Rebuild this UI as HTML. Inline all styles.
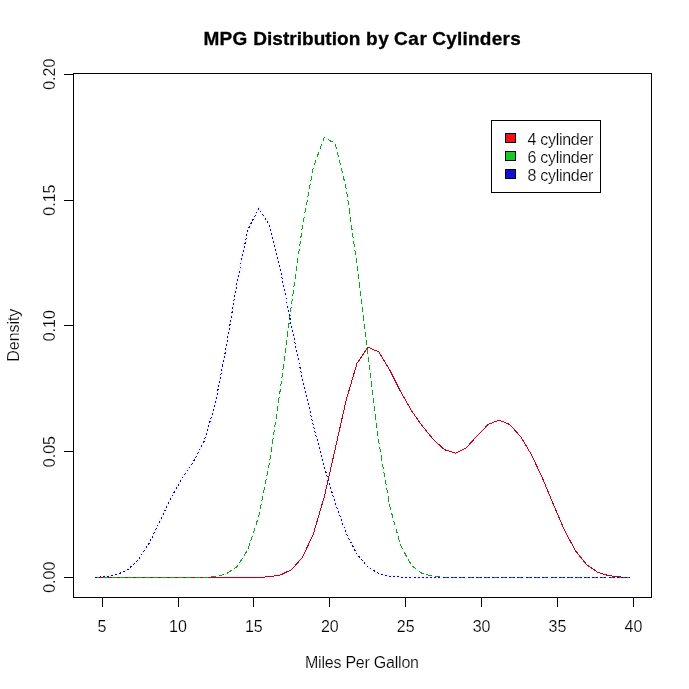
<!DOCTYPE html>
<html lang="en"><head><meta charset="utf-8"><title>MPG Distribution by Car Cylinders</title>
<style>html,body{margin:0;padding:0;background:#fff}body{width:689px;height:689px;overflow:hidden}svg{display:block}svg{will-change:transform}text{font-family:"Liberation Sans",Arial,sans-serif;fill:#000;stroke:#fff;stroke-width:.18px;paint-order:fill stroke}</style></head><body>
<svg width="689" height="689" viewBox="0 0 689 689">
<rect width="689" height="689" fill="#fff"/>
<polyline points="94.91,577.50 105.83,577.50 116.75,577.50 127.67,577.50 138.60,577.50 149.52,577.50 160.44,577.50 171.36,577.50 182.28,577.50 193.21,577.50 204.13,577.50 215.05,577.50 225.97,577.50 236.90,577.49 247.82,577.47 258.74,577.33 269.66,576.78 280.58,574.91 291.51,569.66 302.43,557.46 313.35,533.97 324.27,496.81 335.19,449.01 346.12,400.24 357.04,363.29 367.96,347.14 378.88,352.00 389.81,370.19 400.73,391.87 411.65,410.91 422.57,426.39 433.49,439.55 444.42,449.65 455.34,453.19 466.26,447.73 477.18,435.84 488.10,424.50 499.03,420.08 509.95,424.63 520.87,436.91 531.79,455.35 542.72,478.79 553.64,505.04 564.56,530.30 575.48,550.71 586.40,564.42 597.33,572.05 608.25,575.58 619.17,576.93 630.09,577.36" fill="none" stroke="#ffeef1" stroke-width="3"/>
<polyline points="94.91,577.50 105.83,577.50 116.75,577.50 127.67,577.50 138.60,577.50 149.52,577.50 160.44,577.50 171.36,577.50 182.28,577.49 193.21,577.46 204.13,577.28 215.05,576.53 225.97,574.00 236.90,566.79 247.82,549.74 258.74,516.28 269.66,461.71 280.58,387.75 291.51,304.37 302.43,226.31 313.35,167.35 324.27,137.48 335.19,143.53 346.12,188.07 357.04,264.80 367.96,356.71 378.88,442.40 389.81,506.64 400.73,545.87 411.65,565.55 422.57,573.69 433.49,576.48 444.42,577.27 455.34,577.46 466.26,577.49 477.18,577.50 488.10,577.50 499.03,577.50 509.95,577.50 520.87,577.50 531.79,577.50 542.72,577.50 553.64,577.50 564.56,577.50 575.48,577.50 586.40,577.50 597.33,577.50 608.25,577.50 619.17,577.50 630.09,577.50" fill="none" stroke="#eaffec" stroke-width="3"/>
<polyline points="94.91,577.28 105.83,576.64 116.75,574.67 127.67,569.71 138.60,559.50 149.52,542.58 160.44,520.24 171.36,497.09 182.28,477.88 193.21,462.02 204.13,441.25 215.05,404.69 225.97,348.61 236.90,283.25 247.82,229.80 258.74,208.34 269.66,225.25 280.58,270.44 291.51,326.19 302.43,379.23 313.35,425.60 324.27,466.66 335.19,503.10 346.12,533.03 357.04,554.38 367.96,567.20 378.88,573.60 389.81,576.25 400.73,577.16 411.65,577.42 422.57,577.49 433.49,577.50 444.42,577.50 455.34,577.50 466.26,577.50 477.18,577.50 488.10,577.50 499.03,577.50 509.95,577.50 520.87,577.50 531.79,577.50 542.72,577.50 553.64,577.50 564.56,577.50 575.48,577.50 586.40,577.50 597.33,577.50 608.25,577.50 619.17,577.50 630.09,577.50" fill="none" stroke="#f2f2ff" stroke-width="3"/>
<polyline points="94.91,577.50 105.83,577.50 116.75,577.50 127.67,577.50 138.60,577.50 149.52,577.50 160.44,577.50 171.36,577.50 182.28,577.50 193.21,577.50 204.13,577.50 215.05,577.50 225.97,577.50 236.90,577.49 247.82,577.47 258.74,577.33 269.66,576.78 280.58,574.91 291.51,569.66 302.43,557.46 313.35,533.97 324.27,496.81 335.19,449.01 346.12,400.24 357.04,363.29 367.96,347.14 378.88,352.00 389.81,370.19 400.73,391.87 411.65,410.91 422.57,426.39 433.49,439.55 444.42,449.65 455.34,453.19 466.26,447.73 477.18,435.84 488.10,424.50 499.03,420.08 509.95,424.63 520.87,436.91 531.79,455.35 542.72,478.79 553.64,505.04 564.56,530.30 575.48,550.71 586.40,564.42 597.33,572.05 608.25,575.58 619.17,576.93 630.09,577.36" fill="none" stroke="#9c1028" stroke-width="1" shape-rendering="crispEdges"/>
<polyline points="94.91,577.50 105.83,577.50 116.75,577.50 127.67,577.50 138.60,577.50 149.52,577.50 160.44,577.50 171.36,577.50 182.28,577.49 193.21,577.46 204.13,577.28 215.05,576.53 225.97,574.00 236.90,566.79 247.82,549.74 258.74,516.28 269.66,461.71 280.58,387.75 291.51,304.37 302.43,226.31 313.35,167.35 324.27,137.48 335.19,143.53 346.12,188.07 357.04,264.80 367.96,356.71 378.88,442.40 389.81,506.64 400.73,545.87 411.65,565.55 422.57,573.69 433.49,576.48 444.42,577.27 455.34,577.46 466.26,577.49 477.18,577.50 488.10,577.50 499.03,577.50 509.95,577.50 520.87,577.50 531.79,577.50 542.72,577.50 553.64,577.50 564.56,577.50 575.48,577.50 586.40,577.50 597.33,577.50 608.25,577.50 619.17,577.50 630.09,577.50" fill="none" stroke="#35883f" stroke-width="1" stroke-dasharray="5.2 3.1" shape-rendering="crispEdges"/>
<polyline points="94.91,577.28 105.83,576.64 116.75,574.67 127.67,569.71 138.60,559.50 149.52,542.58 160.44,520.24 171.36,497.09 182.28,477.88 193.21,462.02 204.13,441.25 215.05,404.69 225.97,348.61 236.90,283.25 247.82,229.80 258.74,208.34 269.66,225.25 280.58,270.44 291.51,326.19 302.43,379.23 313.35,425.60 324.27,466.66 335.19,503.10 346.12,533.03 357.04,554.38 367.96,567.20 378.88,573.60 389.81,576.25 400.73,577.16 411.65,577.42 422.57,577.49 433.49,577.50 444.42,577.50 455.34,577.50 466.26,577.50 477.18,577.50 488.10,577.50 499.03,577.50 509.95,577.50 520.87,577.50 531.79,577.50 542.72,577.50 553.64,577.50 564.56,577.50 575.48,577.50 586.40,577.50 597.33,577.50 608.25,577.50 619.17,577.50 630.09,577.50" fill="none" stroke="#1a1468" stroke-width="1" stroke-dasharray="2 2.15" shape-rendering="crispEdges"/>
<rect x="73.5" y="73.5" width="578.0" height="524.0" fill="none" stroke="#000" stroke-width="1" shape-rendering="crispEdges"/>
<g stroke="#000" stroke-width="1" shape-rendering="crispEdges">
<line x1="102.1" y1="597.5" x2="633.5" y2="597.5"/>
<line x1="102.5" y1="597.5" x2="102.5" y2="606.5"/>
<line x1="178.5" y1="597.5" x2="178.5" y2="606.5"/>
<line x1="253.5" y1="597.5" x2="253.5" y2="606.5"/>
<line x1="329.5" y1="597.5" x2="329.5" y2="606.5"/>
<line x1="405.5" y1="597.5" x2="405.5" y2="606.5"/>
<line x1="481.5" y1="597.5" x2="481.5" y2="606.5"/>
<line x1="557.5" y1="597.5" x2="557.5" y2="606.5"/>
<line x1="633.5" y1="597.5" x2="633.5" y2="606.5"/>
<line x1="64.0" y1="577.5" x2="73.5" y2="577.5"/>
<line x1="64.0" y1="451.5" x2="73.5" y2="451.5"/>
<line x1="64.0" y1="325.5" x2="73.5" y2="325.5"/>
<line x1="64.0" y1="200.5" x2="73.5" y2="200.5"/>
<line x1="64.0" y1="74.5" x2="73.5" y2="74.5"/>
</g>
<g font-size="16" text-anchor="middle">
<text x="102.0" y="631.6">5</text>
<text x="177.9" y="631.6">10</text>
<text x="253.8" y="631.6">15</text>
<text x="329.8" y="631.6">20</text>
<text x="405.7" y="631.6">25</text>
<text x="481.6" y="631.6">30</text>
<text x="557.5" y="631.6">35</text>
<text x="633.4" y="631.6">40</text>
<text transform="translate(54.8,577.3) rotate(-90)">0.00</text>
<text transform="translate(54.8,451.6) rotate(-90)">0.05</text>
<text transform="translate(54.8,325.8) rotate(-90)">0.10</text>
<text transform="translate(54.8,200.1) rotate(-90)">0.15</text>
<text transform="translate(54.8,74.3) rotate(-90)">0.20</text>
<text x="362" y="667.6" textLength="114" lengthAdjust="spacing">Miles Per Gallon</text>
<text transform="translate(19.0,335.2) rotate(-90)" textLength="53" lengthAdjust="spacing">Density</text>
</g>
<text y="45" font-size="19" font-weight="bold" style="stroke:#000;stroke-width:.3px"><tspan x="203.5" letter-spacing=".25">MPG </tspan><tspan x="253.2" letter-spacing=".05">Distribution </tspan><tspan x="366.0" letter-spacing=".7">by </tspan><tspan x="394.0" letter-spacing=".55">Car </tspan><tspan x="432.2" letter-spacing=".24">Cylinders</tspan></text>
<rect x="491.5" y="120.5" width="109" height="72" fill="#fff" stroke="#000" stroke-width="1" shape-rendering="crispEdges"/>
<rect x="505.5" y="133.5" width="10" height="9" fill="#f01018" stroke="#000" stroke-width="1" shape-rendering="crispEdges"/>
<text x="527.6" y="144.5" font-size="16" textLength="65.7" lengthAdjust="spacing">4 cylinder</text>
<rect x="505.5" y="151.5" width="10" height="9" fill="#18c828" stroke="#000" stroke-width="1" shape-rendering="crispEdges"/>
<text x="527.6" y="162.5" font-size="16" textLength="65.7" lengthAdjust="spacing">6 cylinder</text>
<rect x="505.5" y="169.5" width="10" height="9" fill="#1010d8" stroke="#000" stroke-width="1" shape-rendering="crispEdges"/>
<text x="527.6" y="180.5" font-size="16" textLength="65.7" lengthAdjust="spacing">8 cylinder</text>
</svg></body></html>
